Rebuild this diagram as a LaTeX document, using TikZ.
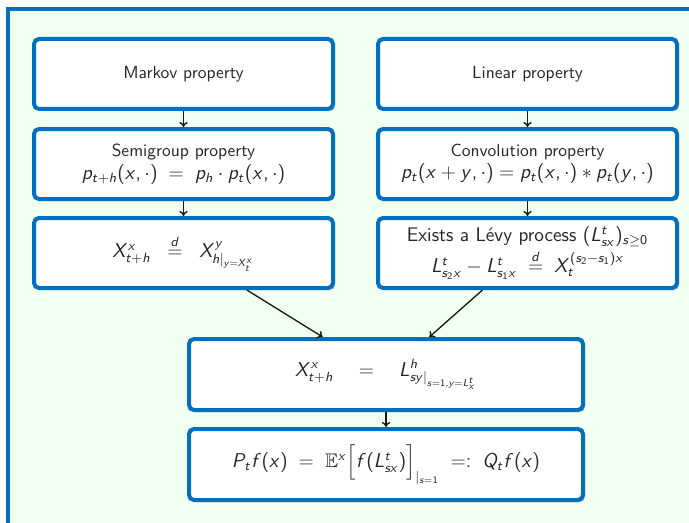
\documentclass[tikz,border=0pt]{standalone}
\usepackage{amsmath,amssymb}
\usepackage{xcolor}
\definecolor{frBlue}{RGB}{0,112,190}
\definecolor{frMint}{RGB}{240,255,240}
\definecolor{frShade}{RGB}{150,150,150}
\DeclareSymbolFont{sfit}{OT1}{cmss}{m}{sl}
\DeclareSymbolFont{sfup}{OT1}{cmss}{m}{n}
\def\sfmathlet#1{\DeclareMathSymbol{#1}{\mathalpha}{sfit}{`#1}}
\def\sfmathnum#1{\DeclareMathSymbol{#1}{\mathalpha}{sfup}{`#1}}
\sfmathlet a\sfmathlet b\sfmathlet c\sfmathlet d\sfmathlet e\sfmathlet f\sfmathlet g
\sfmathlet h\sfmathlet i\sfmathlet j\sfmathlet k\sfmathlet l\sfmathlet m\sfmathlet n
\sfmathlet o\sfmathlet p\sfmathlet q\sfmathlet r\sfmathlet s\sfmathlet t\sfmathlet u
\sfmathlet v\sfmathlet w\sfmathlet x\sfmathlet y\sfmathlet z
\sfmathlet L\sfmathlet P\sfmathlet Q\sfmathlet X
\sfmathnum 0\sfmathnum 1\sfmathnum 2\sfmathnum 3
\DeclareMathSymbol{(}{\mathopen}{sfup}{`(}
\DeclareMathSymbol{)}{\mathclose}{sfup}{`)}
\DeclareMathSymbol{=}{\mathrel}{sfup}{`=}
\DeclareMathSymbol{+}{\mathbin}{sfup}{`+}
\DeclareMathSymbol{,}{\mathpunct}{sfup}{`,}
\DeclareMathSymbol{:}{\mathrel}{sfup}{`:}
\newcommand\mfs{\fontsize{11.8}{14}\selectfont}
\usepackage{tikz}
\usetikzlibrary{arrows.meta,shadows}

\begin{document}
\begin{tikzpicture}[
  box/.style={draw=frBlue,line width=2.4pt,fill=white,rounded corners=3pt,
    minimum width=179.4pt,minimum height=42pt,align=center,
    font=\sffamily\fontsize{10.5}{13}\selectfont,text=black!85,
    drop shadow={shadow xshift=1.2pt,shadow yshift=-1.2pt,fill=frShade,opacity=0.6}},
  wide/.style={box,minimum width=236.4pt,minimum height=42.6pt},
  arr/.style={-{To[length=3pt,width=5pt]},line width=0.8pt,black!90},
  x=0.6pt,y=-0.6pt]

  \useasboundingbox (0,0) rectangle (689,523);
  \fill[frMint] (8,9) rectangle (689,523);
  \draw[frBlue,line width=2.4pt] (8,523) -- (8,9) -- (689,9);

  \node[box] (markov) at (183.5,74) {Markov property};
  \node[box] (linear) at (527.5,74) {Linear property};
  \node[box] (semi) at (183.5,164) {Semigroup property\\[0.5pt]
    \mfs$p_{t+h}(x,\cdot)\;=\;p_h\cdot p_t(x,\cdot)$};
  \node[box] (conv) at (527.5,164) {Convolution property\\[0.5pt]
    \mfs$p_t(x+y,\cdot)=p_t(x,\cdot)*p_t(y,\cdot)$};
  \node[box] (xeq) at (183.5,253) {\mfs$X^x_{t+h}\;\;\overset{d}{=}\;\;X^y_{h|_{y=X^x_t}}$};
  \node[box] (levy) at (527.5,253) {\mfs Exists a L\'evy process $(L^t_{sx})_{s\geq0}$\\[1pt]
    \mfs$L^t_{s_2x}-L^t_{s_1x}\;\overset{d}{=}\;X_t^{(s_2-s_1)x}$};
  \node[wide] (mid) at (386,374.5) {\mfs$X^x_{t+h}\quad=\quad L^h_{sy|_{s=1,y=L^t_x}}$};
  \node[wide] (bot) at (386,464.5) {\mfs$P_tf(x)\;=\;\mathbb{E}^x\Big[f(L^t_{sx})\Big]_{|_{s=1}}\;=:\;Q_tf(x)$};

  \foreach \a/\b in {markov/semi,semi/xeq,linear/conv,conv/levy,mid/bot}
    \draw[arr] (\a) -- (\b);
  \draw[arr] ([xshift=38pt]xeq.south) -- ([xshift=-38pt]mid.north);
  \draw[arr] ([xshift=-27pt]levy.south) -- ([xshift=26pt]mid.north);
\end{tikzpicture}
\end{document}
